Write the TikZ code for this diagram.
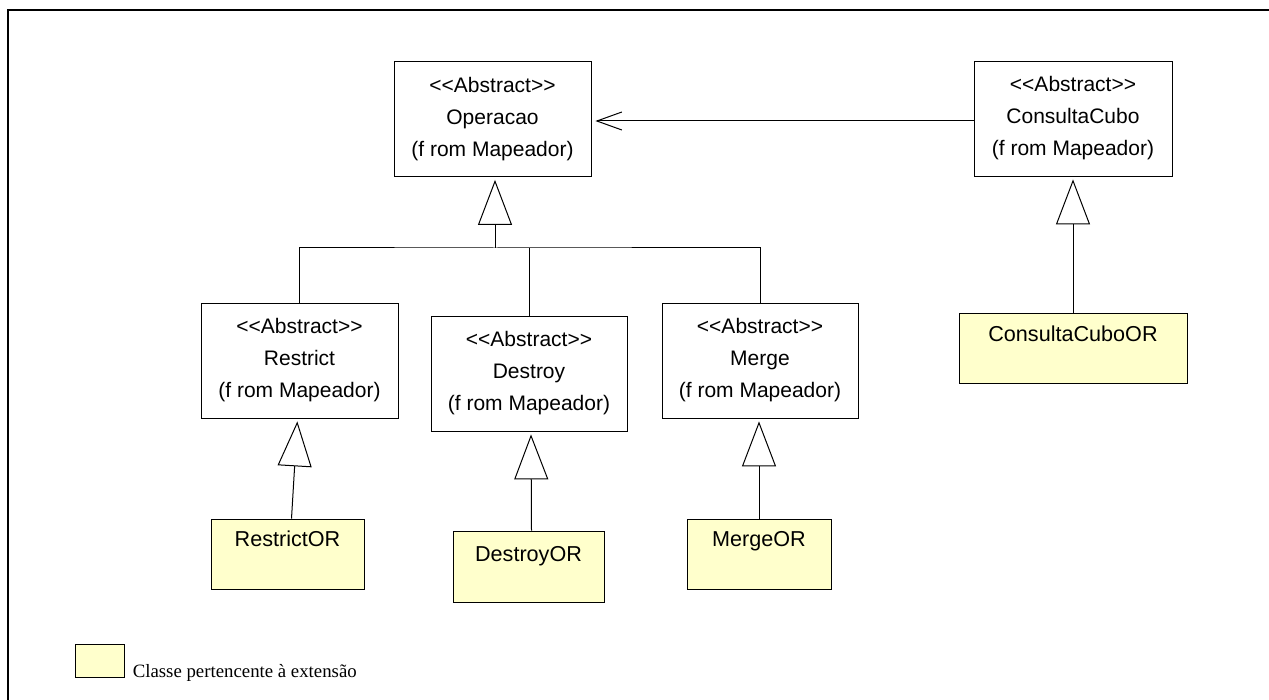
\documentclass[tikz,border=0pt]{standalone}
\usepackage{fontspec}
\setmainfont{Liberation Serif}
\setsansfont{Liberation Sans}
\usepackage{xcolor}
\usetikzlibrary{arrows.meta,positioning}
\definecolor{extfill}{HTML}{FFFFCC}
\newcommand{\stereo}[1]{<{}<#1>{}>}
\tikzset{
  abscls/.style={draw, fill=white, align=center, inner sep=0pt,
                 font=\sffamily\fontsize{10.5}{16}\selectfont,
                 minimum width=98.5pt, minimum height=57.5pt},
  extcls/.style={draw, fill=extfill, inner xsep=0pt, inner ysep=0pt,
                 font=\sffamily\fontsize{10.8}{13}\selectfont,
                 text height=13.9pt, text depth=21.1pt},
  inherit/.style={-{Triangle[open, length=22.5pt, width=17pt]}, line width=0.5pt, shorten >=1.5pt},
  assoc/.style={-{Straight Barb[length=12.5pt, width=9pt]}, line width=0.5pt, shorten >=2pt},
  link/.style={line width=0.5pt},
}
\begin{document}
\begin{tikzpicture}[x=0.5pt, y=-0.5pt]
  \useasboundingbox (0,0) rectangle (1269,700);
  \clip (0,0) rectangle (1269,700);
  \draw[line width=1pt] (8,10) rectangle (1300,730);

  % abstract classes
  \node[abscls] (oper) at (492.5,119) {\stereo{Abstract}\\Operacao\\(f rom Mapeador)};
  \node[abscls, minimum width=99pt] (consulta) at (1073,118.5) {\stereo{Abstract}\\ConsultaCubo\\(f rom Mapeador)};
  \node[abscls] (restrict) at (299.5,360.5) {\stereo{Abstract}\\Restrict\\(f rom Mapeador)};
  \node[abscls, minimum width=98pt] (destroy) at (529,373.5) {\stereo{Abstract}\\Destroy\\(f rom Mapeador)};
  \node[abscls, minimum width=98pt] (merge) at (760,360.5) {\stereo{Abstract}\\Merge\\(f rom Mapeador)};

  % extension classes
  \node[extcls, minimum width=76.5pt] (restrictor) at (287.5,554) {RestrictOR};
  \node[extcls, minimum width=75.5pt, text height=15pt, text depth=20.5pt] (destroyor) at (528.5,566.5) {DestroyOR};
  \node[extcls, minimum width=72pt] (mergeor) at (759,554) {MergeOR};
  \node[extcls, minimum width=114pt] (consultaor) at (1073,348.5) {ConsultaCuboOR};

  % generalisations
  \coordinate (bar) at (495,248);
  \draw[inherit] (bar) -- (bar |- oper.south);
  \draw[link] (restrict.north) |- (bar) -| (merge.north);
  \draw[link] (destroy.north) -- (destroy.north |- bar);
  \draw[inherit] ([xshift=2pt]restrictor.north) -- ([xshift=-1pt]restrict.south);
  \draw[inherit] ([xshift=1.5pt]destroyor.north) -- ([xshift=1pt]destroy.south);
  \draw[inherit] (mergeor.north) -- (mergeor.north |- merge.south);
  \draw[inherit] (consultaor.north) -- (consulta.south);
  \draw[assoc] ([yshift=-1.25pt]consulta.west) -- ([yshift=-1pt]oper.east);

  % legend
  \node[draw, fill=extfill, minimum width=24.5pt, minimum height=16.5pt, inner sep=0pt] (swatch) at (99.5,660.5) {};
  \node[anchor=base west, inner sep=0pt, font=\fontsize{9.4}{11}\selectfont] (legtext)
    at ([xshift=4pt]swatch.south east) {Classe pertencente à extensão};
\end{tikzpicture}
\end{document}
